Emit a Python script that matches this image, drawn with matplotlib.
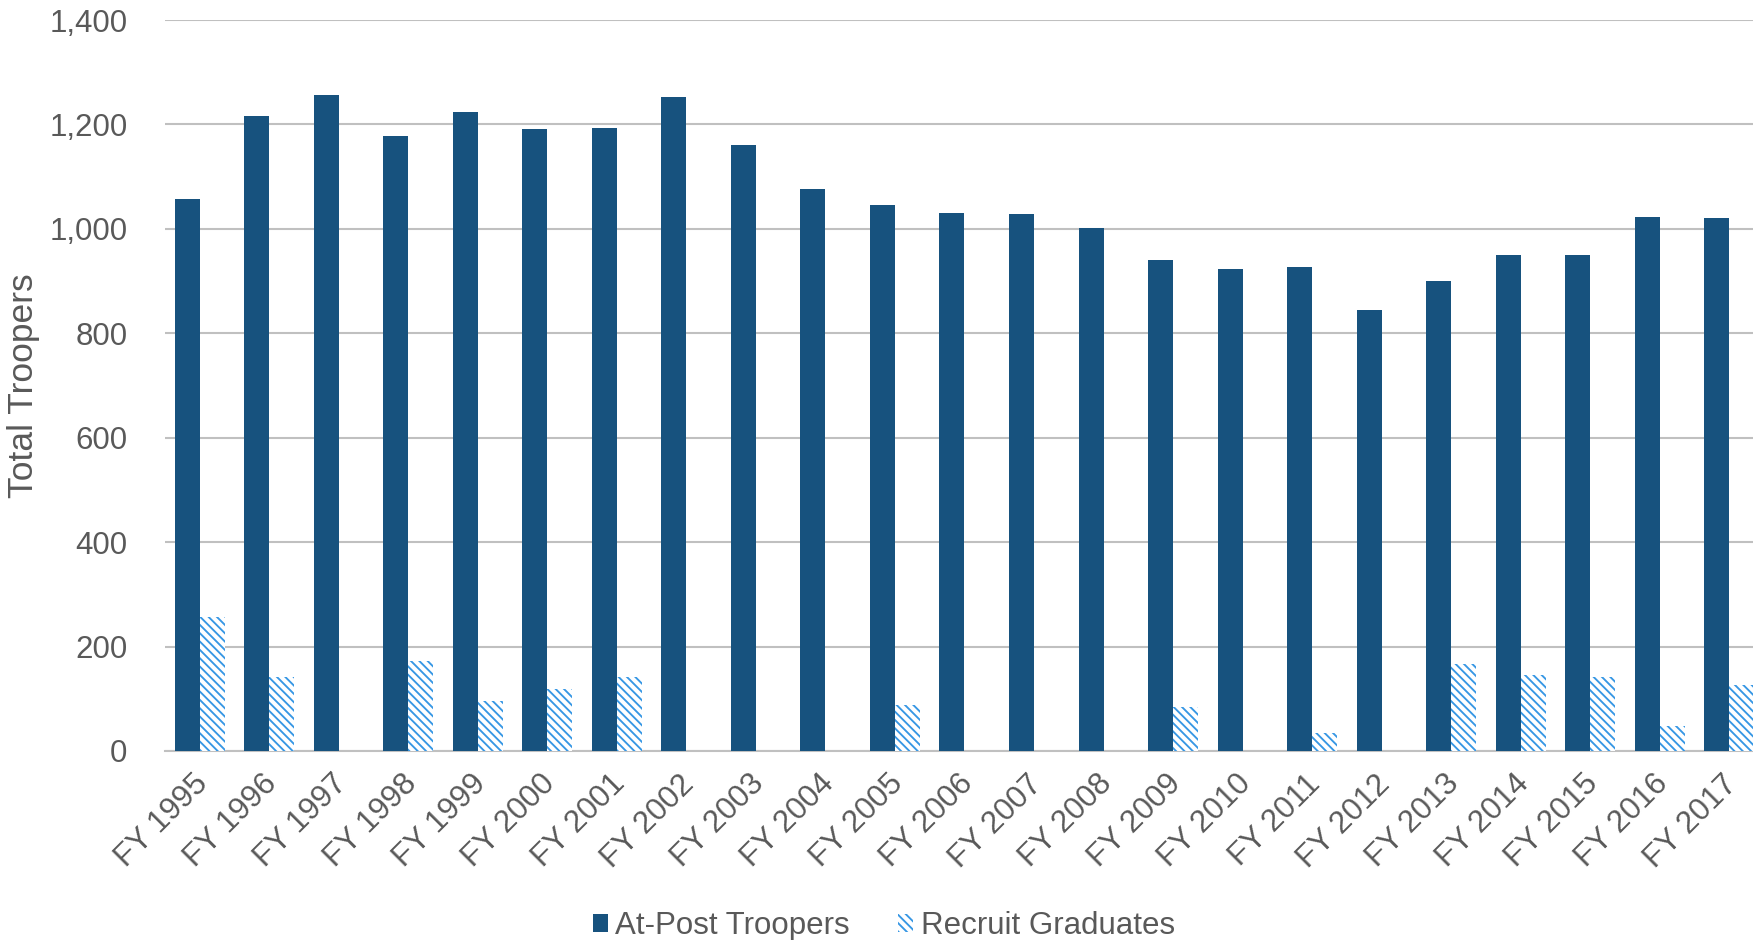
import numpy as np
import matplotlib
matplotlib.use("Agg")
import matplotlib.pyplot as plt
import matplotlib.transforms as mtransforms
from matplotlib.patches import Patch

years = ["FY 1995", "FY 1996", "FY 1997", "FY 1998", "FY 1999", "FY 2000",
         "FY 2001", "FY 2002", "FY 2003", "FY 2004", "FY 2005", "FY 2006",
         "FY 2007", "FY 2008", "FY 2009", "FY 2010", "FY 2011", "FY 2012",
         "FY 2013", "FY 2014", "FY 2015", "FY 2016", "FY 2017"]
at_post = [1057, 1216, 1256, 1177, 1224, 1192, 1193, 1252, 1160, 1076, 1046,
           1031, 1029, 1001, 941, 924, 926, 845, 900, 950, 950, 1023, 1021]
recruits = [256, 141, 0, 172, 96, 118, 141, 0, 0, 0, 88, 0, 0, 0, 84, 0, 34,
            0, 167, 146, 142, 47, 126]

dark = "#17527e"
light = "#3797e4"
grey = "#595959"
fs = 22.5

plt.rcParams["font.family"] = ["Liberation Sans", "DejaVu Sans"]
plt.rcParams["hatch.linewidth"] = 1.35
plt.rcParams["hatch.color"] = light

fig = plt.figure(figsize=(17.53, 9.40), dpi=100)
ax = fig.add_axes([165 / 1753, 189 / 940, 1599 / 1753, 731 / 940])

x = np.arange(len(years))
w = 0.36
ax.bar(x - w / 2, at_post, w, color=dark, linewidth=0, zorder=3)
ax.bar(x + w / 2, recruits, w, facecolor="white", edgecolor=light,
       hatch="\\\\\\\\", linewidth=0, zorder=3)

ax.set_xlim(-0.5, len(years) - 0.5)
ax.set_ylim(0, 1400)
ax.set_yticks(range(0, 1401, 200))
ax.set_yticklabels([f"{v:,}" for v in range(0, 1401, 200)])
ax.yaxis.grid(True, color="#c0c0c0", linewidth=1.5, zorder=0)
ax.set_axisbelow(True)
for s in ["top", "right", "left"]:
    ax.spines[s].set_visible(False)
ax.spines["bottom"].set_color("#c0c0c0")
ax.spines["bottom"].set_linewidth(1.5)

ax.set_xticks(x)
ax.set_xticklabels(years, rotation=45, ha="right", rotation_mode="anchor")
ax.tick_params(axis="both", length=0, labelsize=fs, colors=grey)
ax.tick_params(axis="y", pad=27)
ax.tick_params(axis="x", pad=13)
# nudge the slanted year labels a little to the left
shift = mtransforms.ScaledTranslation(-7 / 100, 0, fig.dpi_scale_trans)
for lbl in ax.get_xticklabels():
    lbl.set_transform(lbl.get_transform() + shift)

fig.text(24 / 1753, 1 - 386 / 940, "Total Troopers", rotation=90,
         fontsize=25.5, color=grey, ha="center", va="center")

handles = [Patch(facecolor=dark, linewidth=0),
           Patch(facecolor="white", edgecolor=light, hatch="\\\\\\\\", linewidth=0)]
fig.legend(handles, ["At-Post Troopers", "Recruit Graduates"], loc="center",
           bbox_to_anchor=(884 / 1753, 1 - 926 / 940), ncol=2, frameon=False,
           fontsize=fs, labelcolor=grey, handlelength=0.47, handleheight=0.5,
           handletextpad=0.25, columnspacing=1.55, borderpad=0)

fig.savefig("out.png", dpi=100)
